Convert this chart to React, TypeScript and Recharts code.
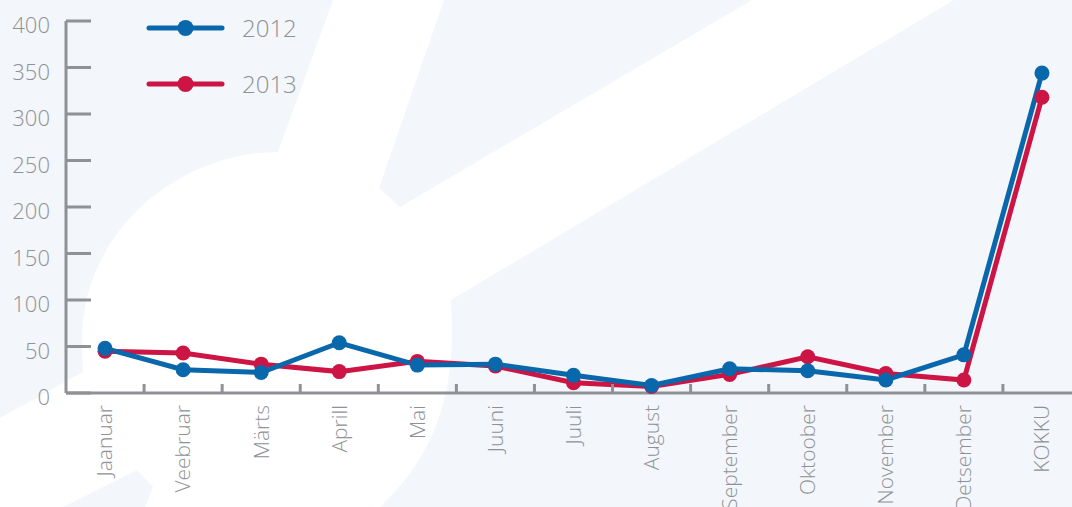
import React from 'react';
import { LineChart, Line, XAxis, YAxis, Legend } from 'recharts';

const months = [
  'Jaanuar', 'Veebruar', 'Märts', 'Aprill', 'Mai', 'Juuni', 'Juuli',
  'August', 'September', 'Oktoober', 'November', 'Detsember', 'KOKKU',
];
const values2012 = [48, 25, 22, 54, 30, 31, 19, 8, 26, 24, 14, 41, 344];
const values2013 = [45, 43, 31, 23, 34, 29, 11, 7, 20, 39, 21, 14, 318];
const yTicks = [0, 50, 100, 150, 200, 250, 300, 350, 400];

const data = months.map((name, i) => ({
  name,
  y2012: values2012[i],
  y2013: values2013[i],
}));

const BLUE = '#0967ab';
const RED = '#cc1544';
const AXIS = '#909196';
const TEXT = '#8f9195';
const FONT = '"Open Sans", sans-serif';

const W = 1082;
const H = 507;
const MARGIN = { top: 21, right: 1, left: 0, bottom: 0 };
const Y_W = 66;
const HALF_BAND = (W - MARGIN.left - MARGIN.right - Y_W) / months.length / 2;

function YTick(props: any) {
  const { x, y, payload } = props;
  return (
    <g>
      <line x1={x} y1={y} x2={x + 25} y2={y} stroke={AXIS} strokeWidth={3} />
      <text x={x - 16} y={y} dy={12} textAnchor="end" fill={TEXT}
        fontSize={22} fontFamily={FONT} fontWeight={300}>
        {payload.value}
      </text>
    </g>
  );
}

function XTick(props: any) {
  const { x, y, payload } = props;
  const ty = y + 12;
  return (
    <g>
      <line x1={x + HALF_BAND} y1={y} x2={x + HALF_BAND} y2={y - 9} stroke={AXIS} strokeWidth={3} />
      <text x={x} y={ty} dy="0.35em" transform={`rotate(-90 ${x} ${ty})`} textAnchor="end"
        fill={TEXT} fontSize={21} fontFamily={FONT} fontWeight={300}>
        {payload.value}
      </text>
    </g>
  );
}

function LegendBox(props: any) {
  const items = [...(props.payload || [])].sort((a: any, b: any) => String(a.value).localeCompare(String(b.value)));
  return (
    <svg width={320} height={110} style={{ display: 'block' }}>
      {items.map((it: any, i: number) => {
        const cy = 28 + 56 * i;
        return (
          <g key={it.value}>
            <line x1={149} y1={cy} x2={222} y2={cy} stroke={it.color} strokeWidth={5} strokeLinecap="round" />
            <circle cx={185.5} cy={cy} r={8} fill={it.color} />
            <text x={242} y={cy} dy="0.36em" fill={TEXT} fontSize={24} fontFamily={FONT} fontWeight={300}>
              {it.value}
            </text>
          </g>
        );
      })}
    </svg>
  );
}

function Backdrop() {
  // white logo shapes on the pale background
  return (
    <svg width={1072} height={507} style={{ position: 'absolute', left: 0, top: 0 }}>
      <path
        d="M 333 0 L 444 0 L 379 188 L 400 207 L 752 0 L 954 0 L 451 300
           C 458 400 430 460 380 507 L 145 507 L 153 487 L 137 470 L 63 507
           L 0 507 L 0 418 L 83 372 L 82 340 C 82 230 180 152 278 152 Z"
        fill="#ffffff"
      />
    </svg>
  );
}

export default function App() {
  return (
    <div style={{ position: 'absolute', left: 0, top: 0, width: 1072, height: 507, overflow: 'hidden', background: '#f3f6fa' }}>
      <Backdrop />
      <LineChart width={W} height={H} data={data} margin={MARGIN}>
        <XAxis dataKey="name" scale="band" interval={0} height={114} tickSize={0} tickMargin={0}
          axisLine={{ stroke: AXIS, strokeWidth: 3 }} tickLine={false} tick={<XTick />} />
        <YAxis domain={[0, 400]} ticks={yTicks} width={Y_W} tickSize={0} tickMargin={0}
          axisLine={{ stroke: AXIS, strokeWidth: 3 }} tickLine={false} tick={<YTick />} />
        <Legend layout="vertical" align="center" verticalAlign="middle"
          wrapperStyle={{ left: 0, top: 0, width: 320, height: 110 }} content={<LegendBox />} />
        <Line type="linear" dataKey="y2013" name="2013" stroke={RED} strokeWidth={5}
          dot={{ r: 7.5, fill: RED, stroke: 'none' }} activeDot={false} isAnimationActive={false} />
        <Line type="linear" dataKey="y2012" name="2012" stroke={BLUE} strokeWidth={5}
          dot={{ r: 7.5, fill: BLUE, stroke: 'none' }} activeDot={false} isAnimationActive={false} />
      </LineChart>
    </div>
  );
}
